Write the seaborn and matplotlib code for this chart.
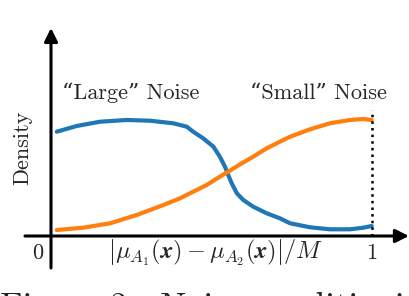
import seaborn as sns
import matplotlib.pyplot as plt

# curve readings (x = |mu_A1 - mu_A2| / M, y = density, arbitrary units)
blue_x = [0.018, 0.080, 0.153, 0.236, 0.308, 0.381, 0.423, 0.443, 0.474,
          0.506, 0.526, 0.542, 0.552, 0.563, 0.579, 0.599, 0.630, 0.672,
          0.713, 0.745, 0.807, 0.869, 0.931, 0.973, 0.999]
blue_y = [1.043, 1.10, 1.143, 1.16, 1.153, 1.127, 1.093, 1.043, 0.977,
          0.893, 0.793, 0.693, 0.61, 0.527, 0.427, 0.36, 0.293, 0.227,
          0.177, 0.127, 0.087, 0.067, 0.067, 0.083, 0.10]

orange_x = [0.018, 0.10, 0.184, 0.267, 0.35, 0.402, 0.443, 0.485, 0.526,
            0.552, 0.589, 0.630, 0.672, 0.713, 0.745, 0.807, 0.869, 0.931,
            0.973, 0.999]
orange_y = [0.06, 0.083, 0.127, 0.21, 0.31, 0.377, 0.443, 0.51, 0.593,
            0.643, 0.717, 0.793, 0.877, 0.943, 0.993, 1.067, 1.127, 1.16,
            1.17, 1.16]

sns.set_style("white")
plt.rcParams["font.family"] = ["cmr10", "DejaVu Serif"]
plt.rcParams["mathtext.fontset"] = "cm"
plt.rcParams["axes.formatter.use_mathtext"] = True

fig = plt.figure(figsize=(4.1, 2.96), dpi=100)
ax = fig.add_axes([0, 0, 1, 1])
ax.set_xlim(-51 / 321, 359 / 321)
ax.set_ylim(-0.60, 2.36)
ax.axis("off")

sns.lineplot(x=blue_x, y=blue_y, color="#1f77b4", lw=3, ax=ax, sort=False)
sns.lineplot(x=orange_x, y=orange_y, color="#ff7f0e", lw=3, ax=ax, sort=False)
for l in ax.lines:
    l.set_solid_capstyle("round")
    l.set_solid_joinstyle("round")

# dotted marker at x = 1
ax.plot([1, 1], [0, 1.26], ls=":", color="k", lw=1.8)

# axis arrows
arrow = dict(arrowstyle="-|>", lw=2.2, color="k", mutation_scale=20, shrinkA=0, shrinkB=0)
ax.annotate("", xy=(1.115, 0), xytext=(-0.081, 0), arrowprops=arrow)
ax.annotate("", xy=(0, 2.08), xytext=(0, -0.32), arrowprops=arrow)

fs = 16
ax.text(0.034, 1.43, "“Large” Noise", fontsize=fs, ha="left", va="center")
ax.text(1.047, 1.43, "“Small” Noise", fontsize=fs, ha="right", va="center")
ax.text(-0.09, 0.88, "Density", fontsize=fs, rotation=90, ha="center", va="center")
ax.text(-0.04, -0.17, "0", fontsize=fs, ha="center", va="center")
ax.text(1.0, -0.17, "1", fontsize=fs, ha="center", va="center")
ax.text(0.511, -0.17,
        r"$\left|\mu_{A_1}(\boldsymbol{x}) - \mu_{A_2}(\boldsymbol{x})\right|/M$",
        fontsize=17.5, ha="center", va="center")

# clipped caption line at the bottom
fig.text(0.0, -0.072, "Figure 2:  Noise conditioning in", fontsize=25, ha="left", va="baseline")

fig.savefig("out.png", dpi=100)
